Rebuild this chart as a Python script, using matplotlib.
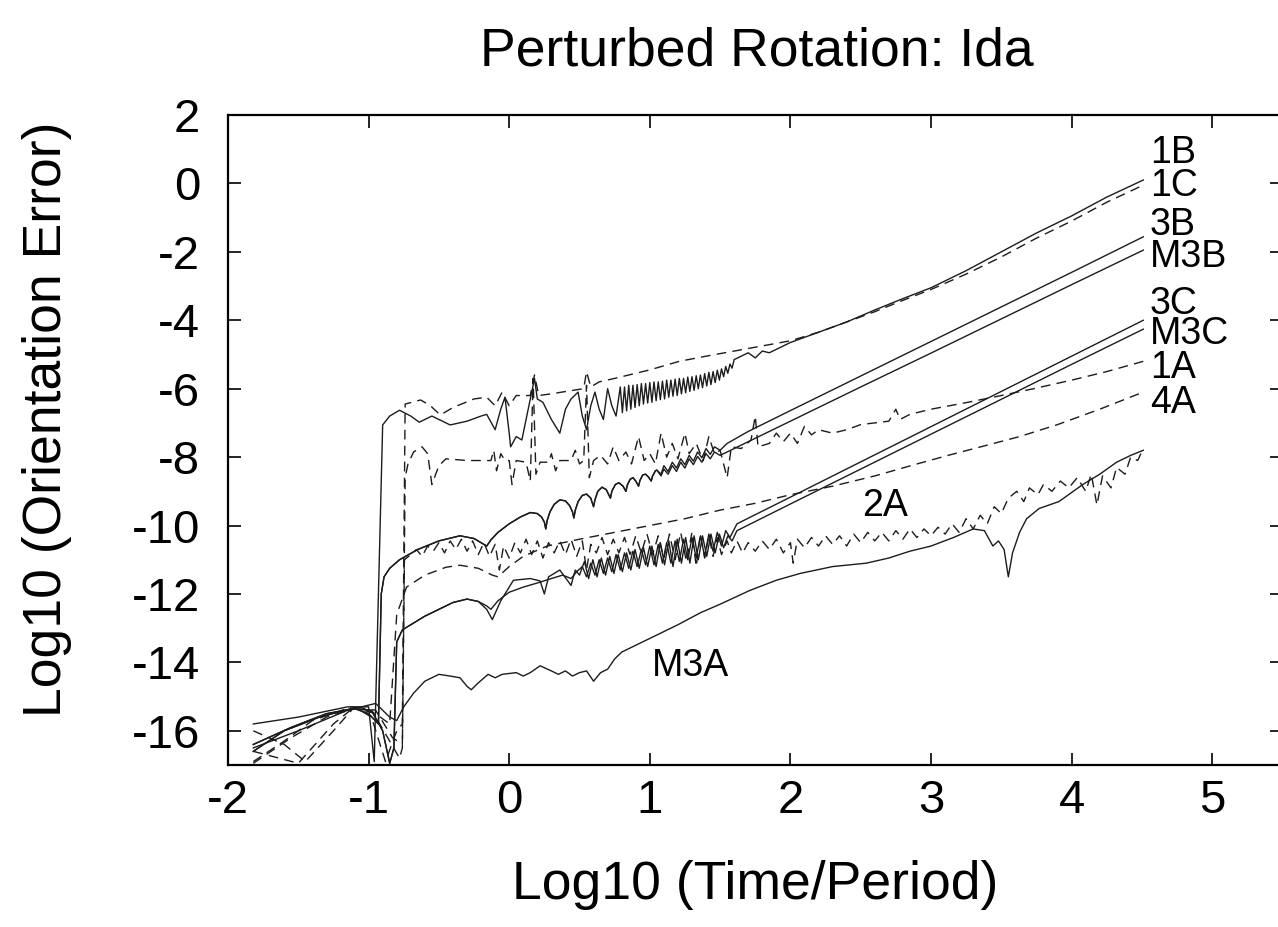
import numpy as np
import matplotlib
matplotlib.use('Agg')
import matplotlib.pyplot as plt

plt.rcParams['font.family'] = ['Liberation Sans', 'DejaVu Sans']
plt.rcParams['axes.unicode_minus'] = False

# ---- data: (log10 time/period, log10 orientation error) ----
s_1b = np.array([
    (-1.82, -15.8), (-1.5, -15.6), (-1.15, -15.3), (-1.0, -15.3), (-0.96, -16.9), (-0.90, -7.06),
    (-0.85, -6.8), (-0.78, -6.63), (-0.70, -6.8), (-0.64, -6.98), (-0.55, -6.8), (-0.42, -7.06),
    (-0.30, -6.95), (-0.20, -6.8), (-0.16, -6.75), (-0.10, -7.2), (-0.06, -6.6), (-0.03, -6.25),
    (0.00, -7.3), (0.01, -7.7), (0.05, -7.4), (0.09, -7.5), (0.14, -6.5), (0.18, -5.7), (0.20, -6.3),
    (0.24, -6.4), (0.30, -6.9), (0.36, -7.3), (0.40, -6.6), (0.44, -6.3), (0.49, -6.1), (0.52, -6.8),
    (0.55, -7.2), (0.58, -6.5), (0.61, -6.1), (0.64, -6.6), (0.67, -6.9), (0.70, -6.0), (0.73, -6.5),
    (0.76, -6.8), (0.79, -5.95), (0.805, -6.7), (0.82, -5.95), (0.835, -6.65), (0.85, -5.9),
    (0.865, -6.6), (0.88, -5.9), (0.895, -6.55), (0.91, -5.88), (0.925, -6.5), (0.94, -5.85),
    (0.955, -6.45), (0.97, -5.85), (0.985, -6.42), (1.0, -5.82), (1.015, -6.4), (1.03, -5.8),
    (1.045, -6.35), (1.06, -5.8), (1.075, -6.32), (1.09, -5.78), (1.105, -6.3), (1.12, -5.75),
    (1.135, -6.25), (1.15, -5.75), (1.165, -6.22), (1.18, -5.72), (1.195, -6.2), (1.21, -5.7),
    (1.225, -6.15), (1.24, -5.7), (1.255, -6.12), (1.27, -5.66), (1.285, -6.08), (1.3, -5.65),
    (1.315, -6.05), (1.33, -5.62), (1.345, -6.0), (1.36, -5.6), (1.375, -5.97), (1.39, -5.56),
    (1.405, -5.92), (1.42, -5.52), (1.435, -5.88), (1.45, -5.5), (1.465, -5.82), (1.48, -5.46),
    (1.495, -5.75), (1.51, -5.42), (1.525, -5.65), (1.54, -5.35), (1.555, -5.55), (1.57, -5.28),
    (1.585, -5.4), (1.60, -5.15),
    (1.65, -5.05), (1.70, -4.95), (1.75, -5.1), (1.80, -4.9), (1.85, -4.95), (1.90, -4.85), (2.0, -4.65),
    (2.1, -4.5), (2.2, -4.35), (2.4, -4.05), (2.6, -3.7), (2.78, -3.4), (3.0, -3.05), (3.25, -2.55),
    (3.5, -2.0), (3.75, -1.45), (4.0, -0.95), (4.25, -0.4), (4.51, 0.1)])

s_1c = np.array([
    (-1.82, -16.0), (-1.6, -16.4), (-1.45, -16.9), (-1.25, -16.0), (-1.1, -15.3), (-0.98, -15.6),
    (-0.88, -16.9), (-0.8, -16.0), (-0.76, -15.8), (-0.74, -6.45), (-0.63, -6.33), (-0.56, -6.5),
    (-0.49, -6.77), (-0.4, -6.55), (-0.25, -6.3), (-0.16, -6.25), (-0.1, -6.5), (-0.05, -6.1),
    (0.0, -6.5), (0.05, -6.2), (0.15, -6.2), (0.18, -5.6), (0.21, -6.2), (0.3, -6.15), (0.45, -6.05),
    (0.53, -6.0), (0.55, -5.5), (0.58, -5.95), (0.64, -5.8), (0.75, -5.7), (0.85, -5.6), (1.0, -5.45),
    (1.21, -5.2), (1.4, -5.05), (1.6, -4.9), (1.8, -4.75), (2.0, -4.6), (2.2, -4.35), (2.4, -4.05),
    (2.6, -3.75), (2.78, -3.45), (3.0, -3.1), (3.25, -2.65), (3.5, -2.15), (3.75, -1.6), (4.0, -1.1),
    (4.25, -0.55), (4.51, -0.05)])

# 3B and M3B lie on top of each other until log t ~ 1
s_3b_early = [
    (-1.82, -16.4), (-1.55, -15.9), (-1.3, -15.5), (-1.1, -15.35), (-1.0, -15.5), (-0.93, -15.8),
    (-0.91, -12.0), (-0.89, -11.5), (-0.85, -11.25), (-0.78, -11.0), (-0.65, -10.7), (-0.5, -10.45),
    (-0.35, -10.3), (-0.25, -10.38), (-0.16, -10.6), (-0.13, -10.42), (-0.08, -10.2), (0.0, -9.95),
    (0.08, -9.75), (0.15, -9.62), (0.20, -9.65), (0.23, -9.75), (0.25, -9.9), (0.26, -10.1),
    (0.27, -9.85), (0.29, -9.6), (0.32, -9.38), (0.36, -9.25), (0.40, -9.28), (0.43, -9.42),
    (0.45, -9.6), (0.46, -9.78), (0.47, -9.55), (0.49, -9.3), (0.52, -9.12), (0.55, -9.08),
    (0.58, -9.2), (0.60, -9.45), (0.61, -9.25), (0.63, -9.0), (0.66, -8.88), (0.69, -8.95),
    (0.72, -9.2), (0.73, -9.0), (0.755, -8.8), (0.78, -8.75), (0.81, -8.85), (0.83, -9.0),
    (0.84, -8.82), (0.86, -8.65), (0.88, -8.6), (0.90, -8.7), (0.92, -8.85), (0.93, -8.68),
    (0.95, -8.52), (0.97, -8.5), (0.99, -8.58), (1.01, -8.7), (1.02, -8.55), (1.04, -8.4), (1.05, -8.38)]
s_3b_late = [
    (1.08, -8.5), (1.10, -8.25), (1.13, -8.42), (1.16, -8.15), (1.19, -8.32), (1.22, -8.05),
    (1.25, -8.22), (1.28, -7.95), (1.31, -8.12), (1.34, -7.85), (1.37, -8.02), (1.40, -7.75),
    (1.43, -7.92), (1.46, -7.7), (1.50, -7.8), (1.55, -7.6), (1.70, -7.25), (2.0, -6.64), (2.5, -5.63),
    (3.0, -4.62), (3.5, -3.61), (4.0, -2.6), (4.51, -1.56)]
s_m3b_late = [
    (1.08, -8.55), (1.10, -8.35), (1.13, -8.5), (1.16, -8.25), (1.19, -8.42), (1.22, -8.15),
    (1.25, -8.32), (1.28, -8.05), (1.31, -8.22), (1.34, -7.98), (1.37, -8.15), (1.40, -7.9),
    (1.43, -8.05), (1.46, -7.85), (1.50, -7.95), (1.55, -7.85), (1.70, -7.55), (2.0, -6.95),
    (2.5, -5.95), (3.0, -4.96), (3.5, -3.96), (4.0, -2.96), (4.51, -1.95)]

s_3c_early = [
    (-1.82, -16.6), (-1.6, -16.0), (-1.35, -15.6), (-1.12, -15.35), (-0.98, -15.4), (-0.9, -16.0),
    (-0.85, -16.95), (-0.82, -16.5), (-0.8, -13.4), (-0.76, -13.05), (-0.7, -12.9), (-0.6, -12.65),
    (-0.5, -12.45), (-0.4, -12.25), (-0.3, -12.15), (-0.22, -12.22)]
s_3c_late = [
    (-0.16, -12.35), (-0.13, -12.45), (-0.08, -12.2), (0.0, -11.95), (0.1, -11.8), (0.2, -11.68),
    (0.3, -11.55), (0.38, -11.45), (0.44, -11.55), (0.48, -11.35), (0.52, -11.2), (0.55, -11.5),
    (0.58, -11.1), (0.61, -11.45), (0.64, -11.0), (0.67, -11.4), (0.70, -10.95), (0.73, -11.35),
    (0.76, -10.85), (0.79, -11.3), (0.82, -10.8), (0.85, -11.25), (0.88, -10.75), (0.91, -11.2),
    (0.94, -10.7), (0.97, -11.15), (1.00, -10.6), (1.03, -11.15), (1.06, -10.55), (1.09, -11.1),
    (1.12, -10.5), (1.15, -11.1), (1.18, -10.45), (1.21, -11.05), (1.24, -10.4), (1.27, -11.0),
    (1.30, -10.35), (1.33, -10.95), (1.36, -10.3), (1.39, -10.9), (1.42, -10.25), (1.45, -10.75),
    (1.48, -10.2), (1.51, -10.6), (1.54, -10.15), (1.57, -10.35), (1.62, -9.95), (2.0, -9.17),
    (2.5, -8.14), (3.0, -7.11), (3.5, -6.08), (4.0, -5.05), (4.51, -4.0)]
s_m3c_late = [
    (-0.16, -12.45), (-0.12, -12.75), (-0.06, -12.2), (0.03, -11.6), (0.15, -11.55), (0.22, -11.62),
    (0.25, -12.0), (0.28, -11.5), (0.36, -11.3), (0.44, -11.75), (0.47, -11.3), (0.50, -11.45),
    (0.535, -11.05), (0.565, -11.55), (0.595, -11.0), (0.625, -11.5), (0.655, -10.95), (0.685, -11.45),
    (0.715, -10.9), (0.745, -11.4), (0.775, -10.85), (0.805, -11.35), (0.835, -10.8), (0.865, -11.3),
    (0.895, -10.7), (0.925, -11.25), (0.955, -10.65), (0.985, -11.2), (1.015, -10.6), (1.045, -11.2),
    (1.075, -10.5), (1.105, -11.15), (1.135, -10.45), (1.165, -11.2), (1.195, -10.4), (1.225, -11.1),
    (1.255, -10.35), (1.285, -11.1), (1.315, -10.3), (1.345, -11.0), (1.375, -10.3), (1.405, -10.9),
    (1.435, -10.25), (1.465, -10.8), (1.495, -10.25), (1.525, -10.65), (1.555, -10.3), (1.585, -10.45),
    (1.62, -10.15), (2.0, -9.37), (2.5, -8.35), (3.0, -7.33), (3.5, -6.31), (4.0, -5.29), (4.51, -4.26)]

s_1a = np.array([
    (-1.82, -16.6), (-1.5, -16.95), (-1.25, -15.8), (-1.1, -15.3), (-0.95, -15.4), (-0.83, -16.2),
    (-0.76, -16.4), (-0.74, -8.6), (-0.72, -8.2), (-0.68, -7.85), (-0.62, -7.7), (-0.58, -7.9),
    (-0.55, -8.8), (-0.5, -8.25), (-0.45, -8.05), (-0.3, -8.1), (-0.13, -8.1), (-0.11, -7.8),
    (-0.09, -8.4), (-0.06, -7.9), (-0.03, -8.1), (0.0, -8.1), (0.02, -8.8), (0.05, -8.1), (0.12, -8.15),
    (0.15, -8.7), (0.17, -5.7), (0.19, -8.5), (0.22, -8.15), (0.28, -8.15), (0.3, -7.9), (0.33, -8.4),
    (0.36, -8.1), (0.44, -8.1), (0.47, -7.8), (0.5, -8.2), (0.53, -8.1), (0.55, -5.9), (0.57, -8.6),
    (0.6, -8.1), (0.65, -7.95), (0.7, -8.2), (0.74, -7.7), (0.78, -8.1), (0.83, -7.85), (0.87, -8.2),
    (0.92, -7.4), (0.96, -8.1), (1.0, -7.9), (1.04, -8.2), (1.08, -7.3), (1.12, -8.0), (1.16, -7.6),
    (1.2, -8.05), (1.25, -7.3), (1.28, -7.9), (1.33, -7.6), (1.38, -8.1), (1.42, -7.4), (1.46, -7.9),
    (1.5, -7.8), (1.55, -8.6), (1.58, -7.7), (1.65, -7.75), (1.72, -7.5), (1.75, -6.8), (1.77, -7.7),
    (1.85, -7.6), (1.9, -7.3), (1.95, -7.55), (2.0, -7.3), (2.05, -7.6), (2.1, -7.1), (2.15, -7.35),
    (2.2, -7.2), (2.3, -7.3), (2.4, -7.2), (2.5, -7.05), (2.6, -7.0), (2.7, -6.95), (2.75, -6.6),
    (2.78, -6.9), (2.85, -6.75), (3.0, -6.6), (3.26, -6.4), (3.5, -6.2), (3.73, -6.0), (4.0, -5.75),
    (4.25, -5.5), (4.51, -5.2)])

s_4a = np.array([
    (-1.82, -16.9), (-1.6, -16.3), (-1.4, -15.7), (-1.12, -15.3), (-0.95, -15.5), (-0.85, -15.8),
    (-0.8, -12.6), (-0.73, -11.8), (-0.6, -11.45), (-0.45, -11.22), (-0.35, -11.16), (-0.22, -11.25),
    (-0.12, -11.45), (-0.08, -11.5), (0.0, -11.2), (0.1, -10.9), (0.27, -10.6), (0.5, -10.4),
    (0.75, -10.2), (1.0, -10.0), (1.25, -9.8), (1.5, -9.55), (1.75, -9.35), (2.0, -9.1), (2.3, -8.85),
    (2.6, -8.55), (2.9, -8.2), (3.13, -7.94), (3.4, -7.65), (3.63, -7.4), (3.9, -7.05), (4.2, -6.6),
    (4.51, -6.1)])

s_2a = np.array([
    (-1.82, -16.95), (-1.55, -16.2), (-1.3, -15.6), (-1.1, -15.35), (-0.97, -15.45), (-0.85, -16.3),
    (-0.78, -16.8), (-0.76, -16.5), (-0.745, -11.0), (-0.70, -10.85), (-0.66, -10.7), (-0.62, -10.9),
    (-0.58, -10.6), (-0.54, -10.75), (-0.50, -10.5), (-0.46, -10.8), (-0.42, -10.45), (-0.38, -10.7),
    (-0.34, -10.4), (-0.30, -10.75), (-0.26, -10.45), (-0.22, -10.85), (-0.18, -10.5), (-0.14, -10.9),
    (-0.10, -10.55), (-0.07, -11.3), (-0.04, -10.6), (0.00, -10.95), (0.04, -10.5), (0.08, -10.8),
    (0.12, -10.4), (0.16, -10.85), (0.20, -10.45), (0.24, -10.95), (0.28, -10.5), (0.32, -10.8),
    (0.36, -10.45), (0.40, -10.85), (0.44, -10.4), (0.48, -10.9), (0.52, -10.45), (0.55, -11.3),
    (0.58, -10.55), (0.62, -10.8), (0.66, -10.35), (0.70, -10.85), (0.74, -10.4), (0.78, -10.8),
    (0.82, -10.35), (0.86, -10.85), (0.90, -10.3), (0.94, -10.8), (0.98, -10.25), (1.02, -10.85),
    (1.06, -10.3), (1.10, -10.95), (1.14, -10.25), (1.18, -11.0), (1.22, -10.2), (1.26, -11.05),
    (1.30, -10.2), (1.33, -11.2), (1.36, -10.25), (1.39, -10.95), (1.42, -10.3), (1.45, -10.9),
    (1.48, -10.35), (1.51, -10.85), (1.55, -10.45), (1.58, -10.8), (1.62, -10.45), (1.66, -10.8),
    (1.70, -10.5), (1.75, -10.75), (1.80, -10.45), (1.85, -10.7), (1.90, -10.4), (1.95, -10.8),
    (2.00, -10.5), (2.02, -11.1), (2.05, -10.4), (2.10, -10.65), (2.15, -10.35), (2.20, -10.6),
    (2.25, -10.3), (2.30, -10.55), (2.35, -10.3), (2.40, -10.6), (2.45, -10.25), (2.50, -10.5),
    (2.55, -10.2), (2.60, -10.45), (2.65, -10.2), (2.70, -10.45), (2.75, -10.15), (2.80, -10.4),
    (2.85, -10.1), (2.90, -10.35), (2.95, -10.1), (3.00, -10.3), (3.05, -10.05), (3.10, -10.25),
    (3.15, -9.95), (3.20, -10.2), (3.25, -9.8), (3.30, -10.1), (3.35, -9.7), (3.40, -9.95),
    (3.45, -9.45), (3.50, -9.65), (3.55, -9.2), (3.61, -9.0), (3.66, -9.3), (3.70, -8.9), (3.76, -9.1),
    (3.80, -8.8), (3.86, -9.0), (3.92, -8.7), (3.98, -8.9), (4.04, -8.6), (4.10, -9.0), (4.14, -8.5),
    (4.18, -9.4), (4.22, -8.55), (4.28, -8.9), (4.32, -8.3), (4.38, -8.5), (4.42, -8.0), (4.47, -8.1),
    (4.51, -7.75)])

s_m3a = np.array([
    (-1.82, -16.5), (-1.5, -16.0), (-1.15, -15.4), (-0.95, -15.2), (-0.85, -15.6), (-0.8, -15.7),
    (-0.75, -15.3), (-0.68, -14.9), (-0.6, -14.55), (-0.5, -14.35), (-0.42, -14.4), (-0.35, -14.45),
    (-0.3, -14.7), (-0.27, -14.8), (-0.22, -14.6), (-0.15, -14.35), (-0.1, -14.45), (-0.05, -14.35),
    (0.05, -14.3), (0.1, -14.4), (0.15, -14.3), (0.22, -14.1), (0.3, -14.25), (0.35, -14.35),
    (0.4, -14.25), (0.45, -14.4), (0.5, -14.3), (0.55, -14.25), (0.6, -14.55), (0.65, -14.3),
    (0.7, -14.2), (0.75, -13.9), (0.8, -13.7), (0.9, -13.5), (1.0, -13.3), (1.2, -12.9), (1.36, -12.55),
    (1.5, -12.3), (1.71, -11.9), (1.9, -11.6), (2.07, -11.4), (2.3, -11.2), (2.54, -11.1), (2.7, -10.95),
    (2.85, -10.75), (3.0, -10.6), (3.16, -10.35), (3.3, -10.1), (3.38, -10.15), (3.44, -10.6),
    (3.48, -10.45), (3.52, -10.7), (3.55, -11.5), (3.58, -10.8), (3.63, -10.2), (3.68, -9.8),
    (3.77, -9.5), (3.91, -9.3), (4.08, -8.8), (4.2, -8.5), (4.32, -8.15), (4.42, -7.95), (4.51, -7.8)])

s_3b = np.array(s_3b_early + s_3b_late)
s_m3b = np.array(s_3b_early + s_m3b_late)
s_3c = np.array(s_3c_early + s_3c_late)
s_m3c = np.array(s_3c_early + s_m3c_late)

# curve labels: text, x of left edge, y of baseline
label_text = ['1B', '1C', '3B', 'M3B', '3C', 'M3C', '1A', '4A', '2A', 'M3A']
label_x = [4.555, 4.555, 4.555, 4.555, 4.555, 4.555, 4.555, 4.555, 2.507, 1.013]
label_y = [0.59, -0.38, -1.52, -2.44, -3.83, -4.68, -5.70, -6.72, -9.72, -14.41]

x_ticks = [-2, -1, 0, 1, 2, 3, 4, 5]
y_ticks = [2, 0, -2, -4, -6, -8, -10, -12, -14, -16]

dashed = (0, (7, 4.5))
series = [(s_1b, '-'), (s_1c, dashed), (s_3b, '-'), (s_m3b, '-'), (s_3c, '-'), (s_m3c, '-'),
          (s_1a, dashed), (s_4a, dashed), (s_2a, dashed), (s_m3a, '-')]

fig = plt.figure(figsize=(12.78, 9.27), dpi=100)
W, H = 1278.0, 927.0
ax = fig.add_axes([228 / W, (H - 765) / H, (1282.5 - 228) / W, 650 / H])

for pts, ls in series:
    ax.plot(pts[:, 0], pts[:, 1], color='#1c1c1c', lw=1.0, linestyle=ls)

for t, lx, ly in zip(label_text, label_x, label_y):
    ax.text(lx, ly, t, fontsize=27, ha='left', va='baseline')

ax.set_xlim(-2, 5.5)
ax.set_ylim(-17, 2)
ax.set_xticks(x_ticks)
ax.set_yticks(y_ticks)
ax.tick_params(direction='in', length=9, width=1.2, top=True, right=True, labelsize=34)
ax.tick_params(axis='x', pad=10)
ax.tick_params(axis='y', pad=20)
for sp in ax.spines.values():
    sp.set_linewidth(1.6)

fig.text(757 / W, 1 - 65 / H, 'Perturbed Rotation: Ida', fontsize=38.5, ha='center', va='baseline')
fig.text(755 / W, 1 - 899 / H, 'Log10 (Time/Period)', fontsize=38.5, ha='center', va='baseline')
fig.text(47 / W, 1 - 419 / H, 'Log10 (Orientation Error)', fontsize=38.5, rotation=90,
         ha='center', va='center')

fig.savefig('out.png', dpi=100)
